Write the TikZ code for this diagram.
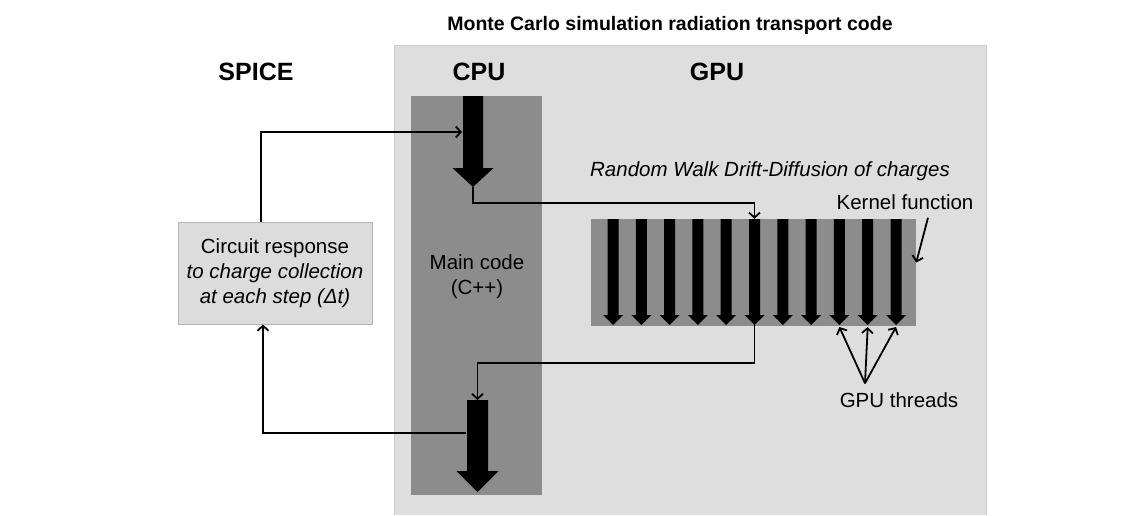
\documentclass[tikz,border=0pt]{standalone}
\usepackage{fontspec}
\setmainfont{Liberation Sans}
\usetikzlibrary{arrows.meta,positioning}
\definecolor{panelgray}{HTML}{DEDEDE}
\definecolor{codegray}{HTML}{8C8C8C}
\definecolor{boxgray}{HTML}{DCDCDC}
\definecolor{edgegray}{HTML}{B4B4B4}

\begin{document}
\begin{tikzpicture}[x=1pt, y=-1pt,
    lbl/.style={font=\fontsize{20.5}{25}\selectfont, align=center, inner sep=0pt},
    heading/.style={font=\fontsize{25}{30}\selectfont\bfseries, inner sep=0pt},
    link/.style={line width=1.8pt, -{Straight Barb[length=5pt, width=11pt, line width=1.8pt]}},
    spicebox/.style={lbl, fill=boxgray, draw=edgegray, line width=1pt,
        minimum width=194, minimum height=102}]
    \useasboundingbox (0,0) rectangle (1145,515);

    % 面板
    \fill[panelgray] (394,45) rectangle (986,515);
    \draw[edgegray!70, line width=0.8pt] (394,515) -- (394,45) -- (986,45) -- (986,515);
    \node[font=\fontsize{19.5}{23}\selectfont\bfseries, inner sep=0pt] (title) at (670,25)
        {Monte Carlo simulation radiation transport code};
    \node[heading] (spicelbl) at (256,72) {SPICE};
    \node[heading] (cpulbl) at (479,72) {CPU};
    \node[heading] (gpulbl) at (717,72) {GPU};

    % CPU 主程序
    \fill[codegray] (411,96) rectangle (542,495);
    \node[lbl] (main) at (477,277) {Main code\\(C++)};
    \fill (463,96) -- (483,96) -- (483,168) -- (493.5,168) -- (473,187)
        -- (452.5,168) -- (463,168) -- cycle;
    \coordinate (cpuin) at (462,132);
    \coordinate (toptip) at (473,187);
    \fill (467,400) -- (488,400) -- (488,471) -- (498.5,471) -- (477.5,492)
        -- (456.5,471) -- (467,471) -- cycle;
    \coordinate (botin) at (477.5,400);
    \coordinate (botout) at (466,433);

    % SPICE
    \node[spicebox] (spice) at (275,273)
        {Circuit response\\\textit{to charge collection}\\\textit{at each step (Δt)}};

    % GPU 核函数
    \node[fill=codegray, inner sep=0pt, minimum width=325, minimum height=107] (kernel)
        at (753.5,272.5) {};
    \foreach \i in {0,...,10} {
        \pgfmathsetmacro{\cx}{613+28.3*\i}
        \fill (\cx-5.5,219) -- (\cx+5.5,219) -- (\cx+5.5,315) -- (\cx+10,315)
            -- (\cx,325) -- (\cx-10,315) -- (\cx-5.5,315) -- cycle;
        \coordinate (t\i) at (\cx,325);
    }
    \node[lbl, font=\fontsize{20.5}{25}\selectfont\itshape] (walk) at (770,171)
        {Random Walk Drift-Diffusion of charges};
    \node[lbl] (kfun) at (905,202) {Kernel function};
    \node[lbl] (thr) at (899,400) {GPU threads};

    % 连线
    \draw[link] ([xshift=-14pt]spice.north) |- (cpuin);
    \draw[link] (toptip) -- ([yshift=-16pt]toptip) -| (kernel.north -| t5);
    \draw[link] (t5) -- ([yshift=-38pt]t5) -| (botin);
    \draw[link] (botout) -| ([xshift=-12pt]spice.south);
    \draw[link] ([xshift=23pt, yshift=-8pt]kfun.south) -- ([yshift=10pt]kernel.east);
    \foreach \t in {t8,t9,t10}
        \draw[link] ([xshift=-34pt, yshift=9pt]thr.north) -- ([yshift=-2pt]\t);
\end{tikzpicture}
\end{document}
